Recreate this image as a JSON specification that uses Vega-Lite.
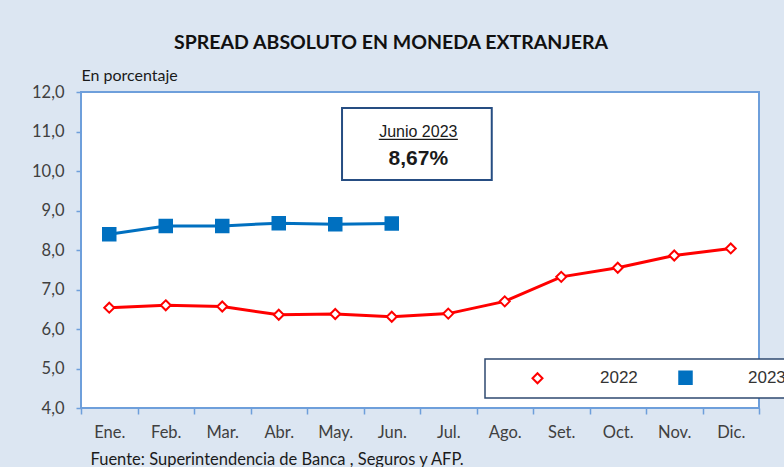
{
  "$schema": "https://vega.github.io/schema/vega-lite/v6.json",
  "width": 678,
  "height": 316,
  "autosize": {"type": "none"},
  "padding": {"left": 81, "top": 92, "right": 25, "bottom": 59},
  "background": "#DCE6F2",
  "title": {
    "text": "SPREAD ABSOLUTO EN MONEDA EXTRANJERA",
    "anchor": "middle",
    "dx": -29,
    "offset": 14,
    "font": "Lato",
    "fontSize": 19.5,
    "fontWeight": "bold",
    "color": "#111111"
  },
  "datasets": {
    "series": [
      {"mes": "Ene.", "year": "2022", "value": 6.54},
      {"mes": "Feb.", "year": "2022", "value": 6.60},
      {"mes": "Mar.", "year": "2022", "value": 6.57},
      {"mes": "Abr.", "year": "2022", "value": 6.36},
      {"mes": "May.", "year": "2022", "value": 6.38},
      {"mes": "Jun.", "year": "2022", "value": 6.31},
      {"mes": "Jul.", "year": "2022", "value": 6.39},
      {"mes": "Ago.", "year": "2022", "value": 6.70},
      {"mes": "Set.", "year": "2022", "value": 7.32},
      {"mes": "Oct.", "year": "2022", "value": 7.55},
      {"mes": "Nov.", "year": "2022", "value": 7.86},
      {"mes": "Dic.", "year": "2022", "value": 8.04},
      {"mes": "Ene.", "year": "2023", "value": 8.40},
      {"mes": "Feb.", "year": "2023", "value": 8.61},
      {"mes": "Mar.", "year": "2023", "value": 8.61},
      {"mes": "Abr.", "year": "2023", "value": 8.68},
      {"mes": "May.", "year": "2023", "value": 8.65},
      {"mes": "Jun.", "year": "2023", "value": 8.67}
    ],
    "box": [{"x1": 4.62, "x2": 7.27, "y1": 9.77, "y2": 11.595}],
    "label": [
      {"x": 5.97, "y": 11.0, "t": "Junio 2023", "kind": "head"},
      {"x": 5.97, "y": 10.3, "t": "8,67%", "kind": "value"}
    ],
    "underline": [{"x1": 5.27, "x2": 6.67, "y": 10.8}]
  },
  "layer": [
    {
      "data": {"name": "series"},
      "encoding": {
        "x": {
          "field": "mes", "type": "ordinal",
          "sort": ["Ene.", "Feb.", "Mar.", "Abr.", "May.", "Jun.", "Jul.", "Ago.", "Set.", "Oct.", "Nov.", "Dic."],
          "scale": {"type": "band", "paddingInner": 0, "paddingOuter": 0},
          "axis": {
            "labelAngle": 0, "tickBand": "extent", "tickSize": 6, "labelPadding": 10,
            "title": "Fuente: Superintendencia de Banca , Seguros y AFP.",
            "titleFont": "Lato", "titleFontSize": 16.5, "titleFontWeight": "normal", "titleColor": "#1a1a1a",
            "titleAnchor": "start", "titleAlign": "left", "titleX": 9, "titleY": 51, "titleBaseline": "middle"
          }
        },
        "y": {
          "field": "value", "type": "quantitative",
          "scale": {"domain": [4, 12], "nice": false, "zero": false},
          "axis": {
            "values": [4, 5, 6, 7, 8, 9, 10, 11, 12], "format": ".1f", "labelOverlap": false,
            "labelExpr": "replace(datum.label, '.', ',')",
            "tickSize": 5, "labelPadding": 12,
            "title": "En porcentaje", "titleAngle": 0, "titleAlign": "left", "titleBaseline": "middle",
            "titleX": 0, "titleY": -17, "titleFont": "Lato", "titleFontSize": 16, "titleFontWeight": "normal", "titleColor": "#1a1a1a"
          }
        }
      },
      "layer": [
        {
          "mark": {"type": "line", "strokeWidth": 3},
          "encoding": {
            "stroke": {"field": "year", "type": "nominal", "scale": {"domain": ["2022", "2023"], "range": ["#FF0000", "#0070C0"]}}
          }
        },
        {
          "mark": {"type": "point", "size": 100, "strokeWidth": 2, "opacity": 1, "filled": false},
          "encoding": {
            "stroke": {"field": "year", "type": "nominal"},
            "fill": {"field": "year", "type": "nominal", "scale": {"domain": ["2022", "2023"], "range": ["#FFFFFF", "#0070C0"]}},
            "shape": {
              "field": "year", "type": "nominal",
              "scale": {"domain": ["2022", "2023"], "range": ["M0,-1L1,0L0,1L-1,0Z", "M-1.25,-1.25H1.25V1.25H-1.25Z"]}
            }
          }
        }
      ]
    },
    {
      "data": {"name": "box"},
      "mark": {"type": "rect", "fill": "white", "stroke": "#264D82", "strokeWidth": 2},
      "encoding": {
        "x": {"field": "x1", "type": "quantitative", "scale": {"domain": [0, 12]}, "axis": null},
        "x2": {"field": "x2"},
        "y": {
          "field": "y1", "type": "quantitative",
          "axis": {
            "values": [4, 5, 6, 7, 8, 9, 10, 11, 12], "format": ".1f", "labelOverlap": false,
            "labelExpr": "replace(datum.label, '.', ',')",
            "tickSize": 5, "labelPadding": 12,
            "title": "En porcentaje", "titleAngle": 0, "titleAlign": "left", "titleBaseline": "middle",
            "titleX": 0, "titleY": -17, "titleFont": "Lato", "titleFontSize": 16, "titleFontWeight": "normal", "titleColor": "#1a1a1a"
          }
        },
        "y2": {"field": "y2"}
      }
    },
    {
      "data": {"name": "underline"},
      "mark": {"type": "rule", "stroke": "#1a1a1a", "strokeWidth": 1.2},
      "encoding": {
        "x": {"field": "x1", "type": "quantitative", "scale": {"domain": [0, 12]}, "axis": null},
        "x2": {"field": "x2"},
        "y": {
          "field": "y", "type": "quantitative",
          "axis": {
            "values": [4, 5, 6, 7, 8, 9, 10, 11, 12], "format": ".1f", "labelOverlap": false,
            "labelExpr": "replace(datum.label, '.', ',')",
            "tickSize": 5, "labelPadding": 12,
            "title": "En porcentaje", "titleAngle": 0, "titleAlign": "left", "titleBaseline": "middle",
            "titleX": 0, "titleY": -17, "titleFont": "Lato", "titleFontSize": 16, "titleFontWeight": "normal", "titleColor": "#1a1a1a"
          }
        }
      }
    },
    {
      "data": {"name": "label"},
      "transform": [{"filter": "datum.kind == 'head'"}],
      "mark": {"type": "text", "font": "Liberation Sans", "fontSize": 16, "color": "#1a1a1a", "baseline": "middle"},
      "encoding": {
        "x": {"field": "x", "type": "quantitative", "scale": {"domain": [0, 12]}, "axis": null},
        "y": {
          "field": "y", "type": "quantitative",
          "axis": {
            "values": [4, 5, 6, 7, 8, 9, 10, 11, 12], "format": ".1f", "labelOverlap": false,
            "labelExpr": "replace(datum.label, '.', ',')",
            "tickSize": 5, "labelPadding": 12,
            "title": "En porcentaje", "titleAngle": 0, "titleAlign": "left", "titleBaseline": "middle",
            "titleX": 0, "titleY": -17, "titleFont": "Lato", "titleFontSize": 16, "titleFontWeight": "normal", "titleColor": "#1a1a1a"
          }
        },
        "text": {"field": "t"}
      }
    },
    {
      "data": {"name": "label"},
      "transform": [{"filter": "datum.kind == 'value'"}],
      "mark": {"type": "text", "font": "Liberation Sans", "fontSize": 21, "fontWeight": "bold", "color": "#1a1a1a", "baseline": "middle"},
      "encoding": {
        "x": {"field": "x", "type": "quantitative", "scale": {"domain": [0, 12]}, "axis": null},
        "y": {
          "field": "y", "type": "quantitative",
          "axis": {
            "values": [4, 5, 6, 7, 8, 9, 10, 11, 12], "format": ".1f", "labelOverlap": false,
            "labelExpr": "replace(datum.label, '.', ',')",
            "tickSize": 5, "labelPadding": 12,
            "title": "En porcentaje", "titleAngle": 0, "titleAlign": "left", "titleBaseline": "middle",
            "titleX": 0, "titleY": -17, "titleFont": "Lato", "titleFontSize": 16, "titleFontWeight": "normal", "titleColor": "#1a1a1a"
          }
        },
        "text": {"field": "t"}
      }
    }
  ],
  "resolve": {"scale": {"x": "independent"}, "axis": {"x": "independent"}},
  "config": {
    "view": {"fill": "white", "stroke": "#6E9FDB", "strokeWidth": 2},
    "axis": {"grid": false, "domain": false, "tickColor": "#6E9FDB", "tickWidth": 1.5, "labelFont": "Lato", "labelFontSize": 16.5, "labelColor": "#404040", "labelOverlap": false},
    "legend": {
      "title": null, "orient": "none", "legendX": 404, "legendY": 267, "direction": "horizontal",
      "padding": 10, "fillColor": "white", "strokeColor": "#2F4A70", "strokeWidth": 1.5,
      "labelFont": "Liberation Sans", "labelFontSize": 17, "labelColor": "#333333", "labelOffset": 54,
      "symbolOffset": 34, "symbolSize": 100, "columnPadding": 5, "symbolStrokeWidth": 2
    }
  }
}
